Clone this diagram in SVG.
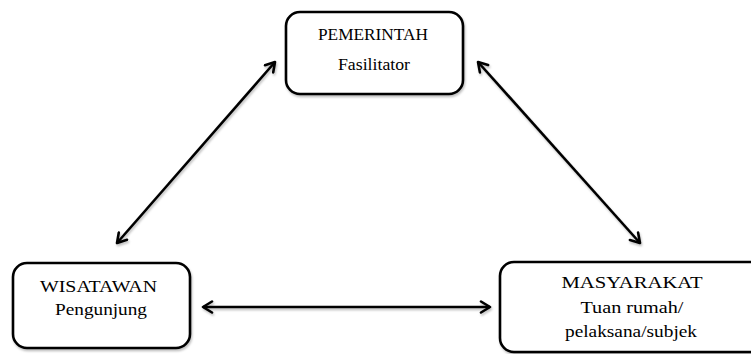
<svg xmlns="http://www.w3.org/2000/svg" width="751" height="354" viewBox="0 0 751 354">
<style>
.box{fill:#fff;stroke:#000;stroke-width:2.6}
.t{font-family:"Liberation Serif","Times New Roman","DejaVu Serif",serif;font-size:17px;fill:#000;text-anchor:middle}
.c{stroke:#000;stroke-width:2.6;fill:none;marker-start:url(#ah);marker-end:url(#ah)}
</style>
<defs>
<filter id="sh" x="-10%" y="-10%" width="120%" height="130%">
<feDropShadow dx="1" dy="2" stdDeviation="1.2" flood-color="#000" flood-opacity="0.25"/>
</filter>
<marker id="ah" viewBox="0 0 14 14" refX="12" refY="7" markerWidth="14" markerHeight="14" markerUnits="userSpaceOnUse" orient="auto-start-reverse">
<path d="M3,1.5 L12,7 L3,12.5" fill="none" stroke="#000" stroke-width="2.6" stroke-linecap="round" stroke-linejoin="round"/>
</marker>
</defs>
<rect width="751" height="354" fill="#fff"/>
<g id="connectors" filter="url(#sh)">
<line class="c" x1="117" y1="243" x2="275" y2="62"/>
<line class="c" x1="478" y1="62" x2="640" y2="243"/>
<line class="c" x1="203" y1="307" x2="490" y2="307"/>
</g>
<g id="pemerintah">
<rect class="box" x="286" y="12" width="177" height="82" rx="14" filter="url(#sh)"/>
<text class="t" x="373" y="40" textLength="110" lengthAdjust="spacingAndGlyphs">PEMERINTAH</text>
<text class="t" x="374" y="70" textLength="72" lengthAdjust="spacingAndGlyphs">Fasilitator</text>
</g>
<g id="wisatawan">
<rect class="box" x="13" y="263" width="177" height="85" rx="14" filter="url(#sh)"/>
<text class="t" x="98.5" y="292" textLength="117" lengthAdjust="spacingAndGlyphs">WISATAWAN</text>
<text class="t" x="101" y="315" textLength="92" lengthAdjust="spacingAndGlyphs">Pengunjung</text>
</g>
<g id="masyarakat">
<rect class="box" x="500" y="262" width="270" height="90" rx="14" filter="url(#sh)"/>
<text class="t" x="632" y="288" textLength="141" lengthAdjust="spacingAndGlyphs">MASYARAKAT</text>
<text class="t" x="632" y="313" textLength="103" lengthAdjust="spacingAndGlyphs">Tuan rumah/</text>
<text class="t" x="631" y="337" textLength="132" lengthAdjust="spacingAndGlyphs">pelaksana/subjek</text>
</g>
</svg>
